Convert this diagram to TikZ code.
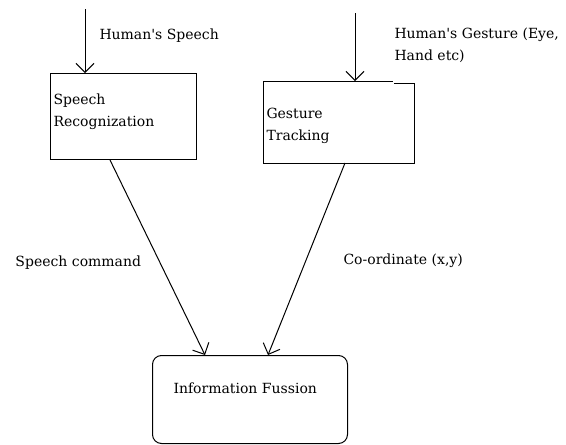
\documentclass[tikz,border=0pt]{standalone}
\usepackage{fontspec}
\setmainfont{DejaVu Serif}
\usetikzlibrary{arrows.meta,calc}
\begin{document}
\begin{tikzpicture}[x=1pt,y=-1pt,
  line width=1pt,
  boxshape/.style={rectangle, inner sep=0pt, anchor=north west},
  lbl/.style={anchor=base west, inner sep=0pt, font=\fontsize{14}{22}\selectfont},
  arr/.style={-{Straight Barb[length=9pt,width=18pt,line width=1pt]}}]
\useasboundingbox (0,0) rectangle (566,445);
% boxes
\node[boxshape, draw, minimum width=146pt, minimum height=86pt] (sr) at (50,73) {};
\node[boxshape, minimum width=150pt, minimum height=81pt] (gt) at (263,81) {};
\draw (gt.north west) -- ($(gt.north west)+(130pt,0)$);
\draw ($(gt.north west)+(131pt,-2pt)$) -- ($(gt.north east)+(0,-2pt)$) -- (gt.south east) -- (gt.south west) -- (gt.north west);
\node[boxshape, draw, rounded corners=9pt, minimum width=195pt, minimum height=88pt] (fu) at (152,355) {};
% texts
\node[lbl] (t1) at (53,104) {Speech};
\node[lbl] (t2) at (53,126) {Recognization};
\node[lbl] (t3) at (266,118) {Gesture};
\node[lbl] (t4) at (266,140) {Tracking};
\node[lbl] (t5) at (173,393) {Information Fussion};
\node[lbl] (hs) at (99,39) {Human\textquotesingle s Speech};
\node[lbl] (hg1) at (394,38) {Human\textquotesingle s Gesture (Eye,};
\node[lbl] (hg2) at (394,60) {Hand etc)};
\node[lbl] (sc) at (15,266) {Speech command};
\node[lbl] (co) at (343,264) {Co-ordinate (x,y)};
% connectors
\coordinate (s0) at (85,9);
\coordinate (g0) at (355,13);
\draw[arr] (s0) -- (s0 |- sr.north);
\draw[arr] (g0) -- (g0 |- gt.north);
\draw[arr] ($(sr.south west)+(60pt,0)$) -- ($(fu.north west)+(53pt,0)$);
\draw[arr] ($(gt.south west)+(82pt,0)$) -- ($(fu.north west)+(116pt,0)$);
\end{tikzpicture}
\end{document}
